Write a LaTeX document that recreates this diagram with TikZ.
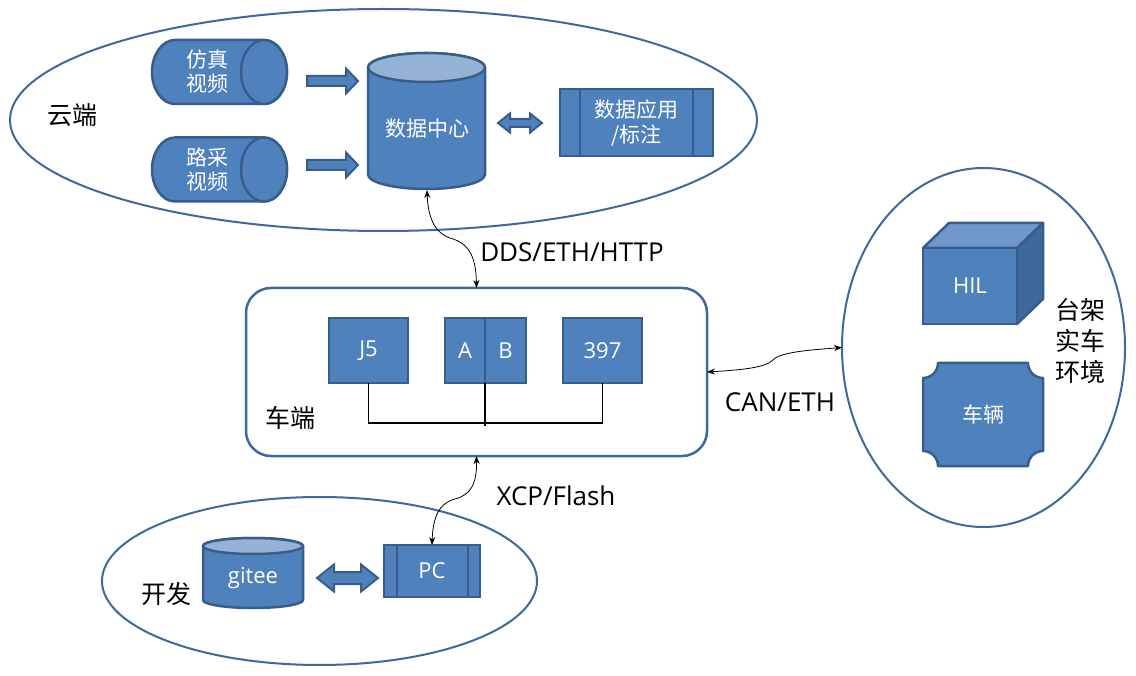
\documentclass[tikz,border=0pt]{standalone}
\usepackage{fontspec}
\setmainfont{Noto Sans CJK SC}
\newfontfamily\latf{Open Sans}
\usetikzlibrary{arrows.meta,shapes.geometric}
\definecolor{bfill}{HTML}{4F81BD}
\definecolor{bline}{HTML}{385D8A}
\definecolor{btop}{HTML}{95B3D7}
\definecolor{ctop}{HTML}{7097CB}
\definecolor{cside}{HTML}{3F689C}
\definecolor{eline}{HTML}{3D6A9E}
\begin{document}
\begin{tikzpicture}[x=1pt,y=-1pt,
  blk/.style={fill=bfill, draw=bline, line width=2.5pt, line join=round},
  barrow/.style={fill=bfill, draw=bline, line width=2pt, line join=miter},
  wtxt/.style={text=white, font=\fontsize{21}{24}\selectfont, align=center, inner sep=0pt},
  grp/.style={ellipse, draw=eline, line width=2pt, inner sep=0pt, outer sep=0pt},
  lbl/.style={font=\fontsize{25}{31}\selectfont, align=center, inner sep=0pt},
  clbl/.style={font=\latf\fontsize{26}{30}\selectfont, inner sep=0pt},
  sbox/.style={rectangle, fill=bfill, draw=bline, line width=2.5pt, inner sep=0pt, outer sep=0pt, text=white, font=\fontsize{21}{25}\selectfont, align=center},
  lsbox/.style={sbox, font=\latf\fontsize{22}{26}\selectfont},
  conn/.style={{Stealth[length=8pt,width=6pt]}-{Stealth[length=8pt,width=6pt]}, line width=0.8pt, black},
  bus/.style={line width=1.4pt, black}]
\useasboundingbox (0,0) rectangle (1136,676);
\fill[white] (0,0) rectangle (1136,676);

% group ellipses
\node[grp, minimum width=747, minimum height=222] (cloud) at (383.5,120) {};
\node[grp, minimum width=283, minimum height=359] (env) at (983.5,347.5) {};
\node[grp, minimum width=435, minimum height=168] (dev) at (319.5,581) {};

% group labels
\node[lbl] (cloudlbl) at (72,115) {云端};
\node[lbl] (devlbl) at (166,594) {开发};
\node[lbl] (envlbl) at (1080,341) {台架\\实车\\环境};

% horizontal cylinders
\foreach \cy in {72,169.5}{
  \path[blk] (264,\cy-32) -- (175,\cy-32)
    arc[start angle=270, end angle=90, x radius=23, y radius=32]
    -- (264,\cy+32)
    arc[start angle=90, end angle=-90, x radius=23, y radius=32] -- cycle;
  \path[blk] (264,\cy) ellipse [x radius=23, y radius=32];
}
\node[wtxt] (sim) at (207.5,72) {仿真\\视频};
\node[wtxt] (road) at (207.5,169.5) {路采\\视频};

% block arrows into data center
\foreach \cy in {81,165}{
  \path[barrow] (307,\cy-5) -- (346,\cy-5) -- (346,\cy-12.5) -- (358,\cy)
    -- (346,\cy+12.5) -- (346,\cy+5) -- (307,\cy+5) -- cycle;
}

% data center cylinder
\path[blk] (368,67.5) -- (368,174.5)
  arc[start angle=180, end angle=0, x radius=58.5, y radius=14.5]
  -- (485,67.5)
  arc[start angle=0, end angle=-180, x radius=58.5, y radius=14.5] -- cycle;
\path[blk, fill=btop] (426.5,67.5) ellipse [x radius=58.5, y radius=14.5];
\node[wtxt] (dc) at (427,129) {数据中心};
\coordinate (dcb) at (427,190);

% double arrow data center <-> app
\path[barrow] (498,123) -- (510,113.5) -- (510,119) -- (530,119) -- (530,113.5)
  -- (542,123) -- (530,132.5) -- (530,127) -- (510,127) -- (510,132.5) -- cycle;

% data app box
\node[sbox, minimum width=153, minimum height=67] (app) at (636.5,122.5) {数据应用\\/标注};
\draw[bline, line width=2.5pt] ([xshift=20pt]app.north west) -- ([xshift=20pt]app.south west);
\draw[bline, line width=2.5pt] ([xshift=-20pt]app.north east) -- ([xshift=-20pt]app.south east);

% vehicle side box
\node[draw=eline, line width=2.5pt, rounded corners=25pt, minimum width=461, minimum height=168, inner sep=0pt, outer sep=0pt] (car) at (476.5,372) {};
\node[lbl] (carlbl) at (290,418) {车端};

\node[lsbox, minimum width=79, minimum height=65] (j5) at (368.5,350.5) {J5};
\node[lsbox, minimum width=40, minimum height=65] (a) at (465,350.5) {A};
\node[lsbox, minimum width=41, minimum height=65] (b) at (505.5,350.5) {B};
\node[lsbox, minimum width=79, minimum height=65] (n397) at (602.5,350.5) {397};

\draw[bus] (j5.south) -- ++(0,40) -| (n397.south);
\draw[bus] (a.south east) -- ++(0,43);

% HIL cube
\path[blk, fill=ctop] (923,248) -- (949,223) -- (1043,223) -- (1017,248) -- cycle;
\path[blk, fill=cside] (1017,248) -- (1043,223) -- (1043,299) -- (1017,324) -- cycle;
\node[lsbox, minimum width=94, minimum height=76] (hil) at (970,286) {HIL};

% vehicle shape with concave corners
\path[blk] (938,363) -- (1028,363)
  arc[start angle=180, end angle=90, radius=15]
  -- (1043,451)
  arc[start angle=270, end angle=180, radius=15]
  -- (938,466)
  arc[start angle=0, end angle=-90, radius=15]
  -- (923,378)
  arc[start angle=90, end angle=0, radius=15] -- cycle;
\node[wtxt] (veh) at (983,414) {车辆};

% dev area
\path[blk] (203,546) -- (203,600)
  arc[start angle=180, end angle=0, x radius=50, y radius=8]
  -- (303,546)
  arc[start angle=0, end angle=-180, x radius=50, y radius=8] -- cycle;
\path[blk, fill=btop] (253,546) ellipse [x radius=50, y radius=8];
\node[wtxt, font=\latf\fontsize{22}{26}\selectfont] (gitee) at (253,578) {gitee};

\path[barrow] (317,578) -- (334,564.5) -- (334,572) -- (361,572) -- (361,564.5)
  -- (378,578) -- (361,591.5) -- (361,584) -- (334,584) -- (334,591.5) -- cycle;

\node[lsbox, minimum width=96, minimum height=52] (pc) at (432,571) {PC};
\draw[bline, line width=2.5pt] ([xshift=13pt]pc.north west) -- ([xshift=13pt]pc.south west);
\draw[bline, line width=2.5pt] ([xshift=-12pt]pc.north east) -- ([xshift=-12pt]pc.south east);

% connectors
\draw[conn] (dcb) .. controls (428,215) and (433,232) .. (450,238)
  .. controls (468,243) and (476,255) .. (car.north);
\draw[conn] (car.east) .. controls (740,370) and (765,368) .. (773,360)
  .. controls (780,352) and (810,350) .. (env.west);
\draw[conn] (car.south) .. controls (477,485) and (470,495) .. (455,499)
  .. controls (440,503) and (433,515) .. (pc.north);

\node[clbl] (ddslbl) at (572,252) {DDS/ETH/HTTP};
\node[clbl] (canlbl) at (780,402) {CAN/ETH};
\node[clbl] (xcplbl) at (556,496) {XCP/Flash};
\end{tikzpicture}
\end{document}
